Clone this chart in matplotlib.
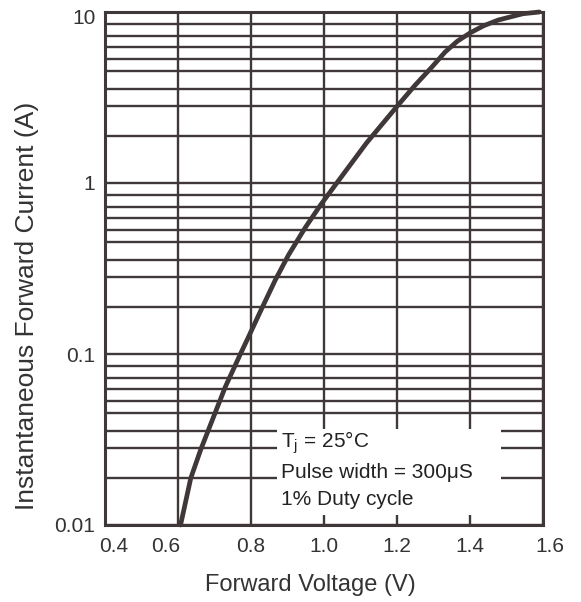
import matplotlib
matplotlib.use('Agg')
import matplotlib.pyplot as plt
from matplotlib.ticker import FixedLocator, NullFormatter, FixedFormatter
from matplotlib.patches import Rectangle
import matplotlib.transforms as mtrans

# ---- data ----
voltage = [0.607, 0.635, 0.662, 0.703, 0.730, 0.771, 0.794, 0.826, 0.867, 0.903,
           0.949, 0.990, 1.035, 1.117, 1.199, 1.249, 1.295, 1.332, 1.365, 1.400,
           1.437, 1.477, 1.545, 1.590]
current = [0.01, 0.0188, 0.0275, 0.046, 0.0645, 0.10, 0.127, 0.178, 0.272, 0.38,
           0.55, 0.741, 1.0, 1.72, 2.79, 3.72, 4.75, 5.84, 6.74, 7.54,
           8.3, 8.97, 9.77, 10.0]

x_ticks = [0.4, 0.6, 0.8, 1.0, 1.2, 1.4, 1.6]
x_tick_labels = ['0.4', '0.6', '0.8', '1.0', '1.2', '1.4', '1.6']
y_ticks = [0.01, 0.1, 1, 10]
y_tick_labels = ['0.01', '0.1', '1', '10']
decades = [0.01, 0.1, 1]
grid_multipliers = [1.875, 2.82, 3.55, 4.52, 5.33, 6.27, 7.28, 8.55]
notes = ['T$_\\mathregular{j}$ = 25°C', 'Pulse width = 300μS', '1% Duty cycle']
x_label = 'Forward Voltage (V)'
y_label = 'Instantaneous Forward Current (A)'

plt.rcParams['font.family'] = ['Liberation Sans', 'DejaVu Sans']
plt.rcParams['mathtext.fontset'] = 'custom'
plt.rcParams['mathtext.rm'] = 'Liberation Sans'
plt.rcParams['mathtext.it'] = 'Liberation Sans:italic'

ink = '#403838'
text_col = '#333333'

fig = plt.figure(figsize=(5.81, 6.02), dpi=100)
ax = fig.add_axes([105/581, 77/602, 438/581, 513/602])
ax.set_yscale('log')
ax.set_xlim(0.4, 1.6)
ax.set_ylim(0.01, 10)

ax.xaxis.set_major_locator(FixedLocator(x_ticks))
ax.xaxis.set_major_formatter(FixedFormatter(x_tick_labels))
ax.yaxis.set_major_locator(FixedLocator(y_ticks))
ax.yaxis.set_major_formatter(FixedFormatter(y_tick_labels))
minor_vals = [d * m for d in decades for m in grid_multipliers]
ax.yaxis.set_minor_locator(FixedLocator(minor_vals))
ax.yaxis.set_minor_formatter(NullFormatter())

ax.grid(True, which='both', axis='y', color=ink, linewidth=1.7)
ax.grid(True, which='major', axis='x', color=ink, linewidth=1.7)
ax.set_axisbelow(True)

ax.tick_params(which='both', length=0)
ax.tick_params(axis='x', pad=9, labelsize=15, labelcolor=text_col)
ax.tick_params(axis='y', pad=7, labelsize=15, labelcolor=text_col)

for s in ax.spines.values():
    s.set_color(ink)
    s.set_linewidth(2.2)

# label offsets as in the reference
offsets = {'0.4': 9, '0.6': -12, '1.6': 7}
for lab in ax.get_xticklabels():
    dx = offsets.get(lab.get_text(), 0)
    if dx:
        lab.set_transform(lab.get_transform() + mtrans.ScaledTranslation(dx/100, 0, fig.dpi_scale_trans))
for lab in ax.get_yticklabels():
    if lab.get_text() == '10':
        lab.set_transform(lab.get_transform() + mtrans.ScaledTranslation(0, -4/100, fig.dpi_scale_trans))

# note box
box = Rectangle((0.870, 0.01144), 1.485 - 0.870, 0.0364 - 0.01144,
                transform=ax.transData, facecolor='white', edgecolor='none', zorder=1)
ax.add_patch(box)
for t, yy in zip(notes, [0.160, 0.103, 0.049]):
    ax.text(0.402, yy, t, transform=ax.transAxes, fontsize=15, color='#222222',
            ha='left', va='center', zorder=3)

ax.plot(voltage, current, color=ink, linewidth=3.4, solid_capstyle='round',
        solid_joinstyle='round', zorder=4, clip_on=False)

fig.text(310/581, 1 - 585/602, x_label, fontsize=17, color=text_col, ha='center', va='center')
fig.text(27/581, 1 - 306/602, y_label, fontsize=19, color=text_col, ha='center', va='center', rotation=90)

fig.savefig('out.png', dpi=100)
